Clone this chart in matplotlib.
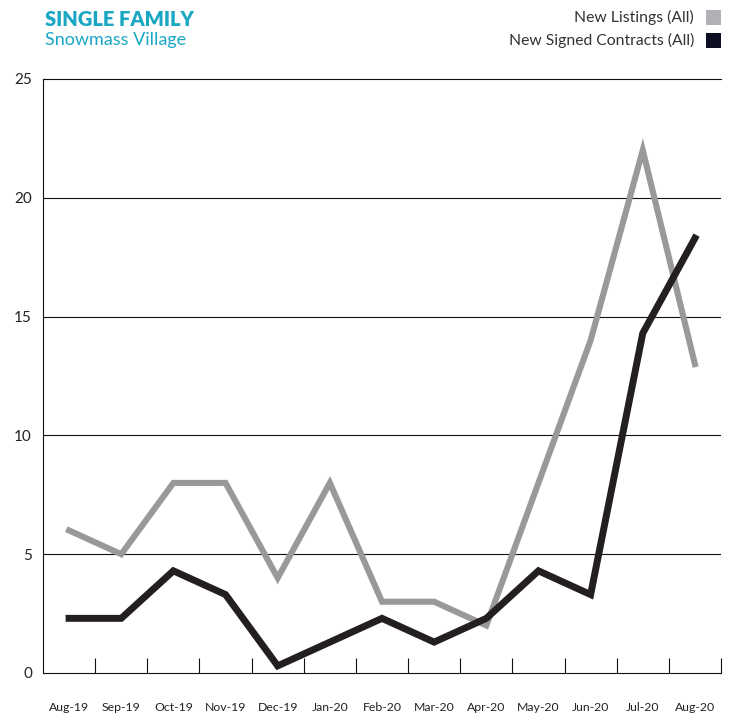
import matplotlib.pyplot as plt
from matplotlib.patches import Rectangle

plt.rcParams['font.family'] = ['Lato', 'DejaVu Sans']

# Data
months = ['Aug-19', 'Sep-19', 'Oct-19', 'Nov-19', 'Dec-19', 'Jan-20', 'Feb-20',
          'Mar-20', 'Apr-20', 'May-20', 'Jun-20', 'Jul-20', 'Aug-20']
new_listings = [6, 5, 8, 8, 4, 8, 3, 3, 2, 8, 14, 22, 13]
signed_contracts = [2.3, 2.3, 4.3, 3.3, 0.3, 1.3, 2.3, 1.3, 2.3, 4.3, 3.3, 14.3, 18.3]

fig = plt.figure(figsize=(7.34, 7.13), dpi=100)
ax = fig.add_axes([43 / 734, 1 - 673 / 713, (721 - 43) / 734, (673 - 79) / 713])

x = list(range(len(months)))
ax.plot(x, new_listings, color='#999999', lw=4.4, solid_joinstyle='miter', zorder=3)
ax.plot(x, signed_contracts, color='#231f20', lw=5.0, solid_joinstyle='miter', zorder=4)

ax.set_xlim(-0.5, len(months) - 0.5)
ax.set_ylim(0, 25)
ax.set_yticks([0, 5, 10, 15, 20, 25])
ax.tick_params(axis='y', length=0, pad=8, labelsize=11, labelcolor='#222222')
for v in [5, 10, 15, 20]:
    ax.axhline(v, color='#111111', lw=0.8, zorder=1)

ax.set_xticks(x)
ax.set_xticklabels(months)
ax.tick_params(axis='x', which='major', length=0, pad=21, labelsize=8.8, labelcolor='#222222')
ax.set_xticks([i + 0.5 for i in x], minor=True)
ax.tick_params(axis='x', which='minor', direction='in', length=11, width=0.8, color='#111111')

ax.spines['right'].set_visible(False)
for s in ['top', 'left', 'bottom']:
    ax.spines[s].set_linewidth(0.8)
    ax.spines[s].set_color('#111111')

# Title
fig.text(45 / 734, 1 - 19 / 713, 'SINGLE FAMILY', color='#1aa7c4', fontsize=14.5,
         fontweight='heavy', va='center', ha='left')
fig.text(45 / 734, 1 - 40 / 713, 'Snowmass Village', color='#1aa7c4', fontsize=13,
         va='center', ha='left')

# Legend
legend_items = [('New Listings (All)', '#b0b0b5', 17), ('New Signed Contracts (All)', '#0f0f23', 40)]
for label, col, yc in legend_items:
    fig.text(694 / 734, 1 - yc / 713, label, color='#333333', fontsize=11.3,
             va='center', ha='right')
    fig.patches.append(Rectangle((706 / 734, 1 - (yc + 7.5) / 713), 15 / 734, 15 / 713,
                                 transform=fig.transFigure, facecolor=col, edgecolor='none'))

plt.savefig('out.png', dpi=100)
